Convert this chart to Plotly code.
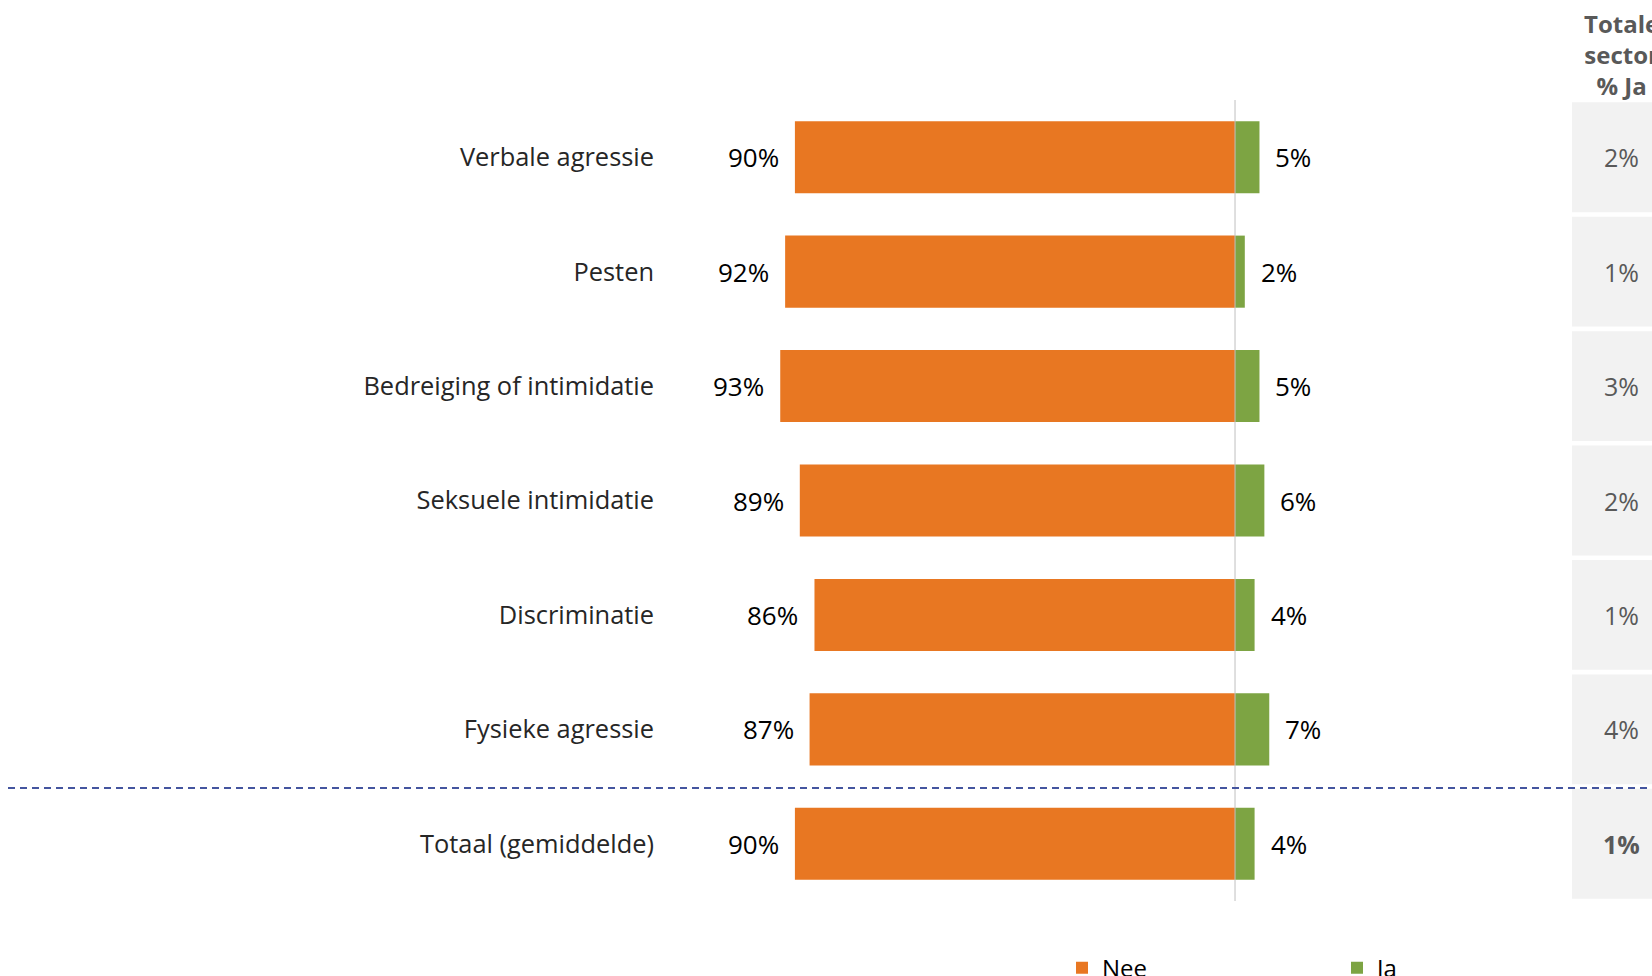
import plotly.graph_objects as go

categories = ["Verbale agressie", "Pesten", "Bedreiging of intimidatie",
              "Seksuele intimidatie", "Discriminatie", "Fysieke agressie",
              "Totaal (gemiddelde)"]
nee = [90, 92, 93, 89, 86, 87, 90]
ja = [5, 2, 5, 6, 4, 7, 4]
sector_ja = [2, 1, 3, 2, 1, 4, 1]
header = "Totale<br>sector<br>% Ja"

ORANGE = "#E87722"
GREEN = "#7DA443"
FONT = "Open Sans"

W, H = 1652, 976
L, R, T, B = 657, 215, 100, 75
pw = W - L - R
ph = H - T - B
n = len(categories)

def px_x(p):
    return (p - L) / pw

fig = go.Figure()
fig.add_trace(go.Bar(y=categories, x=[-v for v in nee], orientation="h", name="Nee",
                     marker=dict(color=ORANGE, line=dict(width=0)), hoverinfo="skip"))
fig.add_trace(go.Bar(y=categories, x=ja, orientation="h", name="Ja",
                     marker=dict(color=GREEN, line=dict(width=0)), hoverinfo="skip"))

shapes = []
annotations = []
# right column grey boxes
for k in range(n):
    yc = 1 - (k + 0.5) / n
    hh = 0.48 / n
    shapes.append(dict(type="rect", xref="paper", yref="paper",
                       x0=px_x(1572), x1=px_x(1720), y0=yc - hh, y1=yc + hh,
                       fillcolor="#F2F2F2", line=dict(width=0), layer="below"))
for k, (c, v) in enumerate(zip(categories, sector_ja)):
    txt = f"{v}%"
    if k == n - 1:
        txt = f"<b>{txt}</b>"
    annotations.append(dict(xref="paper", yref="y", x=px_x(1621), y=c, text=txt,
                            showarrow=False, xanchor="center", yanchor="middle",
                            font=dict(family=FONT, size=25, color="#595959")))
annotations.append(dict(xref="paper", yref="paper", x=px_x(1621), y=1 + (T - 54) / ph,
                        text="<b>" + header + "</b>", showarrow=False,
                        xanchor="center", yanchor="middle",
                        font=dict(family=FONT, size=24, color="#595959")))
# value labels
for c, v in zip(categories, nee):
    annotations.append(dict(xref="x", yref="y", x=-v, y=c, text=f"{v}%",
                            showarrow=False, xanchor="right", yanchor="middle", xshift=-14,
                            font=dict(family=FONT, size=26, color="#000000")))
for c, v in zip(categories, ja):
    annotations.append(dict(xref="x", yref="y", x=v, y=c, text=f"{v}%",
                            showarrow=False, xanchor="left", yanchor="middle", xshift=14,
                            font=dict(family=FONT, size=26, color="#000000")))

# zero line
shapes.append(dict(type="line", xref="x", yref="paper", x0=0, x1=0, y0=0, y1=1,
                   line=dict(color="#BFBFBF", width=1), layer="above"))
# dashed separator
shapes.append(dict(type="line", xref="paper", yref="paper", x0=px_x(8), x1=px_x(1700),
                   y0=1 - (n - 1) / n - 1.5 / ph, y1=1 - (n - 1) / n - 1.5 / ph,
                   line=dict(color="#44559F", width=2, dash="7px,5px"), layer="above"))

fig.update_layout(
    width=W, height=H,
    margin=dict(l=L, r=R, t=T, b=B, autoexpand=False),
    paper_bgcolor="white", plot_bgcolor="white",
    barmode="relative", bargap=0.37,
    font=dict(family=FONT, size=24, color="#000000"),
    xaxis=dict(range=[-118.2, 41.3], showgrid=False, zeroline=False, showticklabels=False,
               showline=False, fixedrange=True),
    yaxis=dict(categoryorder="array", categoryarray=categories, autorange="reversed",
               showgrid=False, zeroline=False, showline=False, ticks="",
               ticklabelstandoff=2,
               tickfont=dict(family=FONT, size=25.4, color="#262626")),
    showlegend=True,
    legend=dict(orientation="h", xref="container", yref="container",
                x=(1076 - 14) / W, y=0.008, xanchor="left", yanchor="middle",
                entrywidth=230, entrywidthmode="pixels",
                font=dict(family=FONT, size=24, color="#000000"),
                traceorder="normal", bgcolor="rgba(0,0,0,0)"),
    shapes=shapes,
    annotations=annotations,
)

fig.write_html("out.html", config={"displayModeBar": False},
               post_script="document.body.style.margin='0';document.body.style.overflow='hidden';")
